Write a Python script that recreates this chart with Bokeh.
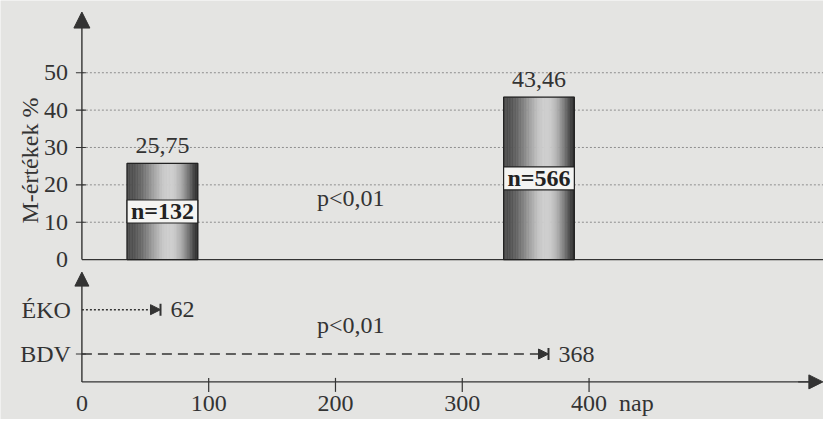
import numpy as np
from bokeh.plotting import figure
from bokeh.models import Range1d, Arrow, NormalHead, TeeHead
from bokeh.embed import file_html
from bokeh.resources import INLINE
from bokeh.core.properties import value

# ---------------- data ----------------
groups = ["ÉKO", "BDV"]
m_values = [25.75, 43.46]            # M-értékek %
m_labels = ["25,75", "43,46"]
n_labels = ["n=132", "n=566"]
durations = [62, 368]               # nap
duration_labels = ["62", "368"]
bar_days = [63.5, 360.5]            # where the bars stand on the day axis
p_text = "p<0,01"
y_ticks = [0, 10, 20, 30, 40, 50]
y_tick_labels = ["0", "10", "20", "30", "40", "50"]
x_ticks = [0, 100, 200, 300, 400]
x_tick_labels = ["0", "100", "200", "300", "400"]
y_title = "M-értékek %"
x_unit = "nap"

# ---------------- layout / style ----------------
W, H = 823, 419
PXX = 1.2679               # px per day
PXY = 3.7372               # px per % unit
X0 = 81.4                  # pixel of day 0
Y0 = 259.1                 # pixel of 0 %
X_MIN, X_MAX = -X0 / PXX, (W - X0) / PXX
Y_MAX, Y_MIN = Y0 / PXY, -(H - Y0) / PXY
Y_XAXIS = -32.72           # lower panel time axis
LANE_Y = [-13.4, -25.26]   # rows of the lower panel
Y_XLAB = -38.4
FONT = "Liberation Serif"
BG = "#e4e4e2"
INK = "#333333"
FS = "24px"
HALF = 27.9                # half bar width in days

p = figure(width=W, height=H, x_range=Range1d(X_MIN, X_MAX), y_range=Range1d(Y_MIN, Y_MAX),
           output_backend="svg", toolbar_location=None,
           x_axis_location=None, y_axis_location=None,
           min_border=0, min_border_left=0, min_border_right=0, min_border_top=0, min_border_bottom=0,
           background_fill_color=BG, border_fill_color=BG, outline_line_color=None)
p.xgrid.visible = False
p.ygrid.visible = False

def tx(**kw):
    base = dict(text_font=value(FONT), text_font_size=FS, text_color=INK)
    base.update(kw)
    return p.text(**base)

# dotted grid lines of the upper panel
grid = [t for t in y_ticks if t > 0]
p.segment(x0=[0] * len(grid), x1=[X_MAX] * len(grid), y0=grid, y1=grid,
          line_color="#8e8e8e", line_width=1, line_dash="2 2")

# upper baseline and lower time axis
p.segment(x0=[0, 0], x1=[X_MAX, X_MAX - 5], y0=[0, Y_XAXIS], y1=[0, Y_XAXIS],
          line_color=INK, line_width=1.4)

# axis arrows
p.add_layout(Arrow(end=NormalHead(size=16, fill_color=INK, line_color=INK),
                   x_start=0, y_start=0, x_end=0, y_end=66.24,
                   line_color=INK, line_width=1.4))
p.add_layout(Arrow(end=NormalHead(size=14, fill_color=INK, line_color=INK),
                   x_start=0, y_start=Y_XAXIS, x_end=0, y_end=-3.35,
                   line_color=INK, line_width=1.4))
p.add_layout(Arrow(end=NormalHead(size=14, fill_color=INK, line_color=INK),
                   x_start=X_MAX - 20, y_start=Y_XAXIS, x_end=X_MAX - 0.5, y_end=Y_XAXIS,
                   line_color=INK, line_width=1.4))

# y ticks (upper panel) and lane tick (BDV)
yt = [t for t in y_ticks if t > 0] + [LANE_Y[1]]
p.segment(x0=[-6 / PXX] * len(yt), x1=[4 / PXX] * len(yt), y0=yt, y1=yt,
          line_color=INK, line_width=1.2)
tx(x=[0] * len(y_ticks), y=y_ticks, text=y_tick_labels, x_offset=-14,
   text_align="right", text_baseline="middle")
tx(x=[0, 0], y=LANE_Y, text=groups, x_offset=-11, text_align="right", text_baseline="middle")

# x ticks
xt = [t for t in x_ticks if t > 0]
p.segment(x0=xt, x1=xt, y0=[Y_XAXIS + 4 / PXY] * len(xt), y1=[Y_XAXIS - 10 / PXY] * len(xt),
          line_color=INK, line_width=1.2)
tx(x=x_ticks, y=[Y_XLAB] * len(x_ticks), text=x_tick_labels,
   text_align="center", text_baseline="middle")
tx(x=[x_ticks[-1]], y=[Y_XLAB], text=[x_unit], x_offset=30,
   text_align="left", text_baseline="middle")

# bars: shaded cylinders built from thin strips
L, R, T, Bt, C = [], [], [], [], []
N = 44
for xc, v in zip(bar_days, m_values):
    edges = np.linspace(xc - HALF, xc + HALF, N + 1)
    for i in range(N):
        t = (i + 0.5) / N
        lo = 78 - 32 * t
        g = int(lo + (208 - lo) * np.sin(np.pi * t ** 1.36) ** 1.3)
        L.append(edges[i]); R.append(edges[i + 1]); T.append(v); Bt.append(0)
        C.append("#%02x%02x%02x" % (g, g, g))
p.quad(left=L, right=R, top=T, bottom=Bt, fill_color=C, line_color=C, line_width=0.6)
p.quad(left=[x - HALF for x in bar_days], right=[x + HALF for x in bar_days],
       top=m_values, bottom=[0] * len(m_values), fill_color=None, line_color="#222222",
       line_width=1.2)

# n= boxes
mid = [v / 2 for v in m_values]
p.rect(x=bar_days, y=mid, width=2 * HALF, height=23, height_units="screen",
       fill_color="#f4f4f2", line_color="#222222", line_width=1.2)
tx(x=bar_days, y=mid, text=n_labels, text_font_style="bold", text_color="#222222",
   text_align="center", text_baseline="middle")

# value labels above bars
tx(x=bar_days, y=[v + 18 / PXY for v in m_values], text=m_labels,
   text_align="center", text_baseline="middle")

# lower panel: durations
dashes = ["2 2", "10 6"]
for yl, d, dash in zip(LANE_Y, durations, dashes):
    p.add_layout(Arrow(end=NormalHead(size=10, fill_color=INK, line_color=INK),
                       x_start=0, y_start=yl, x_end=d, y_end=yl,
                       line_color=INK, line_width=1.6, line_dash=dash))
    p.add_layout(Arrow(end=TeeHead(size=12, line_color=INK, line_width=2),
                       x_start=d - 5, y_start=yl, x_end=d, y_end=yl, line_alpha=0))
tx(x=durations, y=LANE_Y, text=duration_labels, x_offset=10,
   text_align="left", text_baseline="middle")

# p-values
tx(x=[212, 212], y=[16.5, -17.5], text=[p_text, p_text],
   text_align="center", text_baseline="middle")

# y title
tx(x=[-41.0], y=[26.5], text=[y_title], angle=np.pi / 2,
   text_align="center", text_baseline="middle")

open("out.html", "w").write(file_html(p, INLINE))
